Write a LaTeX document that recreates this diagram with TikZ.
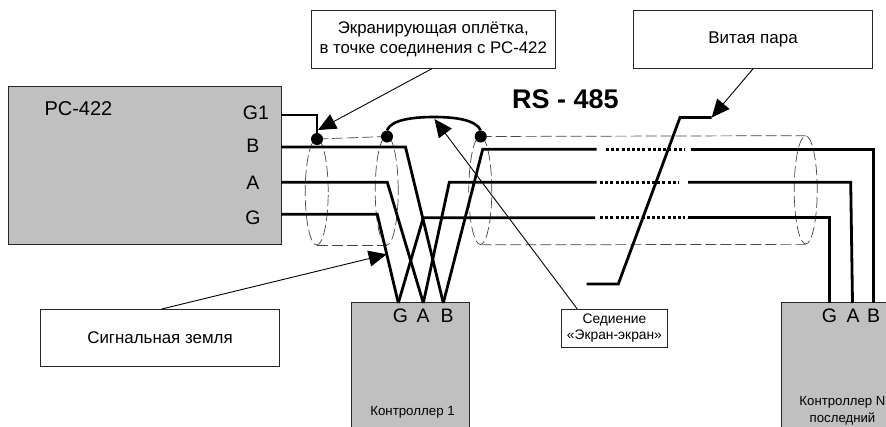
\documentclass[tikz,border=0pt]{standalone}
\usepackage{fontspec}
\setmainfont{Liberation Sans}
\usetikzlibrary{arrows.meta,shapes.geometric}
\definecolor{boxgray}{HTML}{C0C0C0}
\definecolor{shieldgray}{HTML}{444444}
\tikzset{
  x=1pt,y=-1pt,
  unit/.style={draw=black!85,line width=1pt,fill=boxgray,inner sep=0pt,outer sep=0pt,anchor=north west},
  note/.style={draw=black!85,line width=0.9pt,fill=white,inner sep=0pt,outer sep=0pt,anchor=north west,align=center},
  wire/.style={line width=2.8pt,line join=miter,black},
  gapwire/.style={line width=2.8pt,black,dash pattern=on 3pt off 2.2pt},
  shield/.style={draw=shieldgray,line width=0.7pt,dash pattern=on 11pt off 4pt},
  shieldring/.style={ellipse,draw=shieldgray,line width=0.7pt,dash pattern=on 11pt off 4pt,inner sep=0pt,minimum width=23pt,fill=none},
  callout/.style={line width=0.9pt,black,-{Triangle[length=18pt,width=16pt]},shorten >=0pt},
  port/.style={font=\fontsize{19.5}{20}\selectfont,inner sep=0pt},
  dot/.style={circle,fill=black,inner sep=0pt,minimum size=12pt},
  lbl/.style={inner sep=0pt}
}
\begin{document}
\begin{tikzpicture}
\path[use as bounding box] (0,0) rectangle (886,426);
\clip (0,0) rectangle (886,426);
\fill[white] (0,0) rectangle (886,426);

% units
\node[unit,minimum width=272.5pt,minimum height=158pt] (pc) at (8.5,86.5) {};
\node[unit,minimum width=118pt,minimum height=140pt] (k1) at (351.5,302.5) {};
\node[unit,minimum width=130pt,minimum height=140pt] (kn) at (781.7,302.5) {};

% notes
\node[note,minimum width=243.5pt,minimum height=58pt,font=\fontsize{16.8}{20}\selectfont] (nshield) at (311.5,10.5) {Экранирующая оплётка,\\в точке соединения с РС-422};
\node[note,minimum width=239pt,minimum height=58pt,font=\fontsize{17}{19}\selectfont] (npair) at (633.5,10.5) {Витая пара};
\node[note,minimum width=239pt,minimum height=57.5pt,font=\fontsize{16.9}{19}\selectfont] (nground) at (40.5,309) {Сигнальная земля};
\node[note,minimum width=105.5pt,minimum height=38.5pt,font=\fontsize{13.8}{16.5}\selectfont] (njoin) at (561.7,309) {Седиение\\«Экран-экран»};

% shield cylinders
\node[shieldring,minimum height=106pt] (r1) at (316.7,192) {};
\node[shieldring,minimum height=109pt] (r2) at (386.7,190.5) {};
\node[shieldring,minimum height=108pt] (r3) at (480.3,190.5) {};
\node[shieldring,minimum height=108pt] (r4) at (805.7,190) {};

\coordinate (dA) at (317,139);
\coordinate (dB) at (387,136.5);
\coordinate (dC) at (480.7,136.5);
\draw[shield] (dA) -- (dB);
\draw[shield] (r1.south) -- (r2.south);
\draw[shield] (dC) -- (r4.north);
\draw[shield] (r3.south) -- (r4.south);

% wire waypoints, port ends
\coordinate (k1G) at (398.3,303);
\coordinate (k1A) at (423.3,303);
\coordinate (k1B) at (443.3,303);
\coordinate (knG) at (829.3,303);
\coordinate (knA) at (852.5,303);
\coordinate (knB) at (873.3,303);

% wires, PC-422 to controller 1
\coordinate (pcG1) at (281,115);
\coordinate (pcB) at (281,147);
\coordinate (pcA) at (281,182.3);
\coordinate (pcG) at (281,214.3);
\draw[wire] (pcG1) -- (317,115) -- (dA);
\draw[wire] (pcB) -- (405.5,147) -- (k1B);
\draw[wire] (pcA) -- (387.3,182.3) -- (k1A);
\draw[wire] (pcG) -- (377.3,214.3) -- (k1G);

% wires, controller 1 to controller N
\draw[wire] (k1B) -- (482.7,149.3) -- (596.7,149.3);
\draw[gapwire] (606,149.3) -- (685,149.3);
\draw[wire] (690.7,149.3) -- (873.3,149.3) -- (knB);
\draw[wire] (k1A) -- (449.3,182.3) -- (596.7,182.3);
\draw[gapwire] (600,182.3) -- (679,182.3);
\draw[wire] (688,182.3) -- (850.7,182.3) -- (knA);
\draw[wire] (k1G) -- (423.3,217.7) -- (595,217.7);
\draw[gapwire] (600,217.7) -- (685,217.7);
\draw[wire] (688,217.7) -- (829.3,217.7) -- (knG);

% shield link
\node[dot] (d1) at (dA) {};
\node[dot] (d2) at (dB) {};
\node[dot] (d3) at (dC) {};
\draw[line width=2.6pt] (d2.north) .. controls (391,120) and (412,117) .. (434,117) .. controls (456,117) and (476,120) .. (d3.north);

% twisted pair symbol
\coordinate (tp0) at (586.7,284);
\coordinate (tp1) at (618.3,284);
\coordinate (tp2) at (680,117.5);
\coordinate (tp3) at (711.7,117.5);
\draw[wire] (tp0) -- (tp1) -- (tp2) -- (tp3);

% callouts
\coordinate (tipS) at (318,130);
\coordinate (tipG) at (386.7,254.3);
\coordinate (tipJ) at (434.5,119);
\draw[callout] (432.3,68.5) -- (tipS);
\draw[callout] (753.3,68.5) -- (tp3);
\draw[callout] (161.7,309) -- (tipG);
\draw[callout] (577.3,309) -- (tipJ);

% labels
\node[lbl,font=\fontsize{20}{22}\selectfont] (lpc) at (78.5,108.5) {РС-422};
\node[port] (lG1) at (256,113) {G1};
\node[port] (lB) at (253,146) {B};
\node[port] (lA) at (253,183) {A};
\node[port] (lG) at (253,218) {G};
\node[lbl,font=\bfseries\fontsize{27}{29}\selectfont] (rs) at (565.5,99.5) {RS - 485};
\node[port] (k1gl) at (400.5,315.5) {G};
\node[port] (k1al) at (423,315.5) {A};
\node[port] (k1bl) at (447,315.5) {B};
\node[port] (kngl) at (829.5,315.5) {G};
\node[port] (knal) at (853,315.5) {A};
\node[port] (knbl) at (873.5,315.5) {B};
\node[lbl,font=\fontsize{13.3}{15}\selectfont] (k1t) at (412.5,412) {Контроллер 1};
\node[lbl,font=\fontsize{13.2}{16.6}\selectfont,align=center] (knt) at (842.5,410.5) {Контроллер N\\последний};
\end{tikzpicture}
\end{document}
